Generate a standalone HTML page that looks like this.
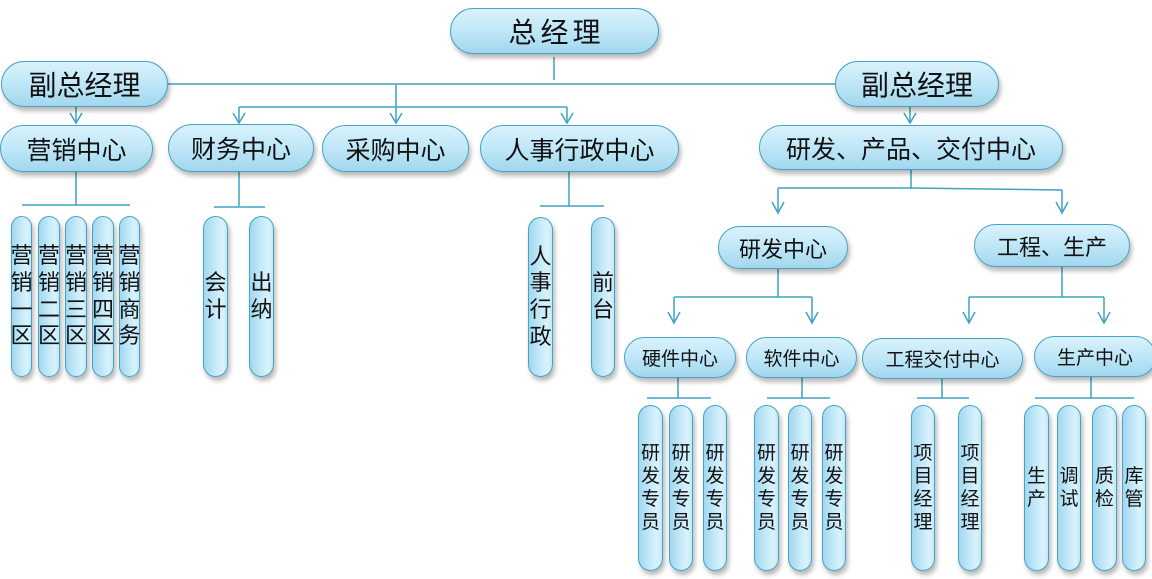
<!DOCTYPE html>
<html>
<head>
<meta charset="utf-8">
<style>
  html,body{margin:0;padding:0;background:#fff;}
  #wrap{position:relative;width:1152px;height:579px;overflow:hidden;background:#fff;}
  svg{position:absolute;left:0;top:0;}
  .n{position:absolute;box-sizing:border-box;border:1.6px solid #46a3c5;border-radius:999px;
     background:linear-gradient(to bottom,#d9f2fc 0%,#c2e8f8 45%,#a2d7ee 100%);
     box-shadow:2px 4px 5px rgba(0,0,0,0.28);
     display:flex;align-items:center;justify-content:center;
     font-family:"Liberation Sans","Noto Sans CJK SC",sans-serif;color:#111;white-space:nowrap;}
  .p{position:absolute;box-sizing:border-box;border:1.5px solid #46a3c5;border-radius:14px;
     background:linear-gradient(to right,#a2d7ee 0%,#c6eaf9 50%,#d9f2fc 80%,#c2e8f8 100%);
     box-shadow:2px 4px 5px rgba(0,0,0,0.28);
     display:flex;align-items:center;justify-content:center;text-align:center;
     font-family:"Liberation Sans","Noto Sans CJK SC",sans-serif;color:#111;}
  .p span{display:block;}
  .a{font-size:22px;line-height:26.7px;}
  .b{font-size:19px;line-height:23.2px;}
</style>
</head>
<body>
<div id="wrap">
<svg width="1152" height="579" viewBox="0 0 1152 579">
 <g stroke="#3fa3c4" stroke-width="1.5" fill="none">
  <path d="M554 57V80"/>
  <path d="M168 84H835"/>
  <path d="M76 107V123"/><polyline points="70,113 76,123 82,113"/>
  <path d="M396 84V123"/><polyline points="390,113 396,123 402,113"/>
  <path d="M239 107H567"/>
  <path d="M239 107V123"/><polyline points="233,113 239,123 245,113"/>
  <path d="M567 107V123"/><polyline points="561,113 567,123 573,113"/>
  <path d="M910 107V123"/><polyline points="904,113 910,123 916,113"/>

  <path d="M76 171V205"/><path d="M22 205H130"/>
  <path d="M239 172V206"/><path d="M214 207H265"/>
  <path d="M569 172V206"/><path d="M540 206H604"/>

  <path d="M911 170V189"/><path d="M778 188H911L1062 190"/>
  <path d="M778 188V213"/><polyline points="772,202 778,213 784,202"/>
  <path d="M1062 190V213"/><polyline points="1056,202 1062,213 1068,202"/>

  <path d="M778 269V297"/><path d="M674 297H812"/>
  <path d="M674 297V323"/><polyline points="668,312 674,323 680,312"/>
  <path d="M812 297V323"/><polyline points="806,312 812,323 818,312"/>

  <path d="M1062 267V297"/><path d="M969 297H1104"/>
  <path d="M969 297V323"/><polyline points="963,312 969,323 975,312"/>
  <path d="M1104 297V323"/><polyline points="1098,312 1104,323 1110,312"/>

  <path d="M678 378V398"/><path d="M647 398H711"/>
  <path d="M802 378V398"/><path d="M767 398H830"/>
  <path d="M942 379V398"/><path d="M917 398H969"/>
  <path d="M1091 377V398"/><path d="M1035 398H1134"/>
 </g>
</svg>

<!-- level 0/1 -->
<div class="n" style="left:450px;top:8px;width:209px;height:46px;font-size:28px;letter-spacing:4px;padding-left:4px;">总经理</div>
<div class="n" style="left:1px;top:61px;width:167px;height:46px;font-size:28px;">副总经理</div>
<div class="n" style="left:835px;top:61px;width:164px;height:46px;font-size:28px;">副总经理</div>

<!-- level 2 -->
<div class="n" style="left:0px;top:125px;width:153px;height:47px;font-size:25px;">营销中心</div>
<div class="n" style="left:168px;top:124px;width:146px;height:48px;font-size:25px;">财务中心</div>
<div class="n" style="left:322px;top:125px;width:147px;height:47px;font-size:25px;">采购中心</div>
<div class="n" style="left:480px;top:125px;width:199px;height:47px;font-size:25px;">人事行政中心</div>
<div class="n" style="left:759px;top:125px;width:304px;height:45px;font-size:25px;">研发、产品、交付中心</div>

<!-- level 3 -->
<div class="n" style="left:718px;top:226px;width:130px;height:43px;font-size:22px;">研发中心</div>
<div class="n" style="left:974px;top:224px;width:156px;height:43px;font-size:22px;">工程、生产</div>

<!-- level 4 -->
<div class="n" style="left:624px;top:337px;width:112px;height:41px;font-size:19px;">硬件中心</div>
<div class="n" style="left:746px;top:337px;width:111px;height:41px;font-size:19px;">软件中心</div>
<div class="n" style="left:862px;top:338px;width:161px;height:41px;font-size:19px;">工程交付中心</div>
<div class="n" style="left:1034px;top:336px;width:122px;height:41px;font-size:19px;">生产中心</div>

<!-- pills under 营销 -->
<div class="p a" style="left:11px;top:216px;width:21px;height:161px;"><span>营<br>销<br>一<br>区</span></div>
<div class="p a" style="left:38px;top:216px;width:22px;height:161px;"><span>营<br>销<br>二<br>区</span></div>
<div class="p a" style="left:65px;top:216px;width:22px;height:161px;"><span>营<br>销<br>三<br>区</span></div>
<div class="p a" style="left:92px;top:216px;width:22px;height:161px;"><span>营<br>销<br>四<br>区</span></div>
<div class="p a" style="left:119px;top:216px;width:21px;height:161px;"><span>营<br>销<br>商<br>务</span></div>

<!-- 财务 -->
<div class="p a" style="left:203px;top:216px;width:25px;height:161px;"><span>会<br>计</span></div>
<div class="p a" style="left:249px;top:216px;width:25px;height:161px;"><span>出<br>纳</span></div>

<!-- 人事 -->
<div class="p a" style="left:528px;top:217px;width:25px;height:160px;"><span>人<br>事<br>行<br>政</span></div>
<div class="p a" style="left:591px;top:217px;width:24px;height:160px;"><span>前<br>台</span></div>

<!-- 研发专员 -->
<div class="p b" style="left:638px;top:405px;width:25px;height:166px;"><span>研<br>发<br>专<br>员</span></div>
<div class="p b" style="left:669px;top:405px;width:24px;height:166px;"><span>研<br>发<br>专<br>员</span></div>
<div class="p b" style="left:703px;top:405px;width:24px;height:166px;"><span>研<br>发<br>专<br>员</span></div>
<div class="p b" style="left:754px;top:405px;width:25px;height:166px;"><span>研<br>发<br>专<br>员</span></div>
<div class="p b" style="left:788px;top:405px;width:24px;height:166px;"><span>研<br>发<br>专<br>员</span></div>
<div class="p b" style="left:822px;top:405px;width:24px;height:166px;"><span>研<br>发<br>专<br>员</span></div>

<!-- 项目经理 -->
<div class="p b" style="left:911px;top:405px;width:24px;height:166px;"><span>项<br>目<br>经<br>理</span></div>
<div class="p b" style="left:958px;top:405px;width:24px;height:166px;"><span>项<br>目<br>经<br>理</span></div>

<!-- 生产中心 children -->
<div class="p b" style="left:1024px;top:405px;width:25px;height:166px;"><span>生<br>产</span></div>
<div class="p b" style="left:1057px;top:405px;width:24px;height:166px;"><span>调<br>试</span></div>
<div class="p b" style="left:1092px;top:405px;width:25px;height:166px;"><span>质<br>检</span></div>
<div class="p b" style="left:1122px;top:405px;width:24px;height:166px;"><span>库<br>管</span></div>
</div>
</body>
</html>
